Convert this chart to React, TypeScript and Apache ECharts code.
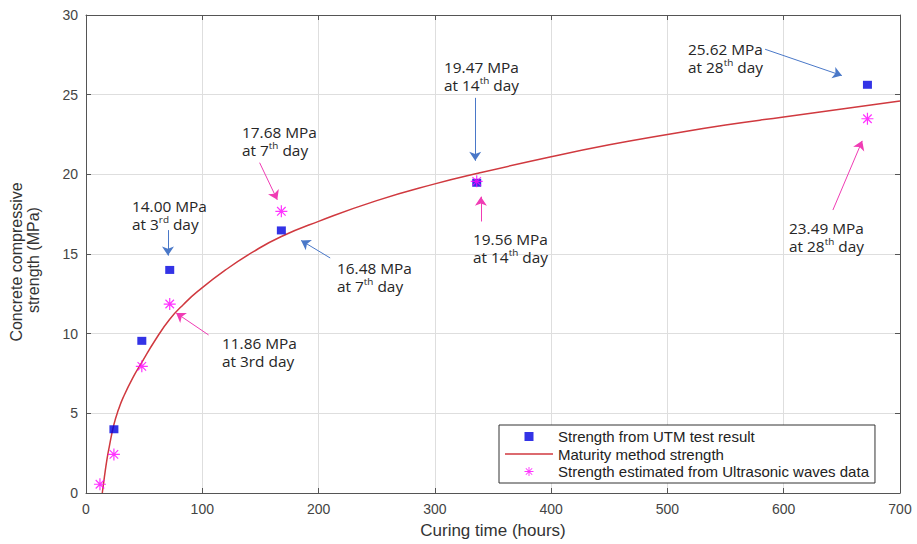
import React, { useEffect, useRef } from "react";
import * as echarts from "echarts";

// ---- data ----
const utmHours = [24, 48, 72, 168, 336, 672];
const utmStrength = [4.0, 9.55, 14.0, 16.48, 19.47, 25.62];

const ultraHours = [12, 24, 48, 72, 168, 336, 672];
const ultraStrength = [0.55, 2.42, 7.95, 11.86, 17.68, 19.56, 23.49];

const maturityHours = [14, 16, 18, 20, 24, 28, 32, 40, 48, 60, 72, 84, 96, 120, 144, 168, 200, 250, 300, 336, 400, 450, 500, 550, 600, 650, 700];
const maturityStrength = [0, 1.1, 2.1, 2.9, 4.3, 5.25, 6.0, 7.2, 8.2, 9.65, 10.9, 11.85, 12.65, 14.0, 15.15, 16.1, 17.05, 18.35, 19.4, 20.05, 21.1, 21.85, 22.5, 23.1, 23.6, 24.1, 24.6];

const seriesNames = [
  "Strength from UTM test result",
  "Maturity method strength",
  "Strength estimated from Ultrasonic waves data",
];

// annotation arrows, in data units: [from, to]
const blueArrows = [
  [[70.5, 16.5], [70.5, 14.9]],
  [[210, 14.75], [185, 15.85]],
  [[334.7, 24.8], [334.7, 20.85]],
  [[584, 27.85], [650, 26.2]],
];
const pinkArrows = [
  [[105.4, 9.92], [77.5, 11.3]],
  [[149.3, 20.73], [164.5, 18.4]],
  [[339.6, 17.04], [339.6, 18.6]],
  [[642.3, 17.76], [667.5, 22.1]],
];

// annotation texts
const annotationTexts = [
  { value: "14.00 MPa", line2: "{t|at 3}{s|rd}{t| day}" },
  { value: "11.86 MPa", line2: "{t|at 3rd day}" },
  { value: "17.68 MPa", line2: "{t|at 7}{s|th}{t| day}" },
  { value: "16.48 MPa", line2: "{t|at 7}{s|th}{t| day}" },
  { value: "19.47 MPa", line2: "{t|at 14}{s|th}{t| day}" },
  { value: "19.56 MPa", line2: "{t|at 14}{s|th}{t| day}" },
  { value: "25.62 MPa", line2: "{t|at 28}{s|th}{t| day}" },
  { value: "23.49 MPa", line2: "{t|at 28}{s|th}{t| day}" },
];
const annotationPos = [
  [132, 197],
  [222, 334],
  [242, 123],
  [337, 259],
  [444, 58],
  [473, 230],
  [688, 40],
  [789, 219],
];

const STAR =
  "path://M9 0H11V20H9Z M0 9H20V11H0Z M2.2 3.6L3.6 2.2L17.8 16.4L16.4 17.8Z M16.4 2.2L17.8 3.6L3.6 17.8L2.2 16.4Z";
const SQUARE_ICON = "path://M0 0H10V10H0Z";
const LINE_ICON = "path://M0 0H48V1.5H0Z";

const AXIS_COLOR = "#555555";
const SANS = "'Liberation Sans', Arial, sans-serif";

export default function App() {
  const ref = useRef<HTMLDivElement>(null);

  useEffect(() => {
    document.body.style.margin = "0";
    if (!ref.current) return;
    const chart = echarts.init(ref.current, undefined, { renderer: "svg" });

    const arrowMark = (arrows: number[][][], color: string) => ({
      silent: true,
      animation: false,
      symbol: ["none", "arrow"],
      symbolSize: 9,
      label: { show: false },
      emphasis: { disabled: true },
      lineStyle: { color, width: 1, type: "solid" },
      data: arrows.map(([a, b]) => [{ coord: a }, { coord: b }]),
    });

    const richStyles = {
      t: { fontSize: 14, fontFamily: "'Open Sans', sans-serif", fill: "#262626", lineHeight: 18 },
      s: { fontSize: 9, fontFamily: "'Open Sans', sans-serif", fill: "#262626", lineHeight: 10, verticalAlign: "top" },
    };

    const graphics: any[] = annotationTexts.map((a, i) => ({
      type: "text",
      x: annotationPos[i][0],
      y: annotationPos[i][1],
      scaleX: 1.1,
      z: 100,
      silent: true,
      style: {
        text: `{t|${a.value}}\n${a.line2}`,
        rich: richStyles,
        verticalAlign: "top",
        align: "left",
      },
    }));
    graphics.push(
      {
        type: "text",
        x: 16,
        y: 262,
        rotation: Math.PI / 2,
        silent: true,
        style: {
          text: "Concrete compressive",
          font: `16px ${SANS}`,
          fill: "#333",
          align: "center",
          verticalAlign: "middle",
        },
      },
      {
        type: "text",
        x: 33,
        y: 260,
        rotation: Math.PI / 2,
        silent: true,
        style: {
          text: "strength (MPa)",
          font: `16px ${SANS}`,
          fill: "#333",
          align: "center",
          verticalAlign: "middle",
        },
      }
    );

    const baseAxisLine = { show: true, onZero: false, lineStyle: { color: AXIS_COLOR, width: 1 } };
    const baseTick = { show: true, inside: true, length: 5, lineStyle: { color: AXIS_COLOR } };

    chart.setOption({
      animation: false,
      grid: { left: 86, right: 17, top: 15, bottom: 47, containLabel: false },
      xAxis: [
        {
          type: "value",
          min: 0,
          max: 700,
          interval: 100,
          position: "bottom",
          axisLine: baseAxisLine,
          axisTick: baseTick,
          axisLabel: { color: "#444", fontSize: 14, fontFamily: SANS, margin: 9 },
          splitLine: { show: true, lineStyle: { color: "#dedede", width: 1 } },
          name: "Curing time (hours)",
          nameLocation: "middle",
          nameGap: 29,
          nameTextStyle: { fontSize: 17, color: "#333", fontFamily: SANS },
        },
        {
          type: "value",
          min: 0,
          max: 700,
          interval: 100,
          position: "top",
          axisLine: baseAxisLine,
          axisTick: baseTick,
          axisLabel: { show: false },
          splitLine: { show: false },
        },
      ],
      yAxis: [
        {
          type: "value",
          min: 0,
          max: 30,
          interval: 5,
          position: "left",
          axisLine: baseAxisLine,
          axisTick: baseTick,
          axisLabel: { color: "#444", fontSize: 14, fontFamily: SANS, margin: 8 },
          splitLine: { show: true, lineStyle: { color: "#dedede", width: 1 } },
        },
        {
          type: "value",
          min: 0,
          max: 30,
          interval: 5,
          position: "right",
          axisLine: baseAxisLine,
          axisTick: baseTick,
          axisLabel: { show: false },
          splitLine: { show: false },
        },
      ],
      legend: {
        data: [
          { name: seriesNames[0], icon: SQUARE_ICON, itemStyle: { color: "#0000e0" } },
          { name: seriesNames[1], icon: LINE_ICON, itemStyle: { color: "#d0393f" } },
          { name: seriesNames[2], icon: STAR, itemStyle: { color: "#ff00ff" } },
        ],
        orient: "vertical",
        left: 499,
        top: 425,
        itemWidth: 48,
        itemHeight: 9,
        itemGap: 0.5,
        padding: [3, 6, 3, 6],
        backgroundColor: "#fff",
        borderColor: "#333",
        borderWidth: 1,
        borderRadius: 0,
        selectedMode: false,
        textStyle: { fontSize: 15, fontFamily: SANS, color: "#222", lineHeight: 17 },
        z: 10,
      },
      series: [
        {
          name: seriesNames[1],
          type: "line",
          data: maturityHours.map((h, i) => [h, maturityStrength[i]]),
          symbol: "none",
          showSymbol: false,
          smooth: true,
          lineStyle: { color: "#d0393f", width: 1.5 },
          itemStyle: { color: "#d0393f" },
          z: 2,
        },
        {
          name: seriesNames[0],
          type: "scatter",
          data: utmHours.map((h, i) => [h, utmStrength[i]]),
          symbol: "rect",
          symbolSize: [9, 8],
          itemStyle: { color: "#0000e0" },
          z: 3,
          markLine: arrowMark(blueArrows, "#4a78c8"),
        },
        {
          name: seriesNames[2],
          type: "scatter",
          data: ultraHours.map((h, i) => [h, ultraStrength[i]]),
          symbol: STAR,
          symbolSize: 12,
          itemStyle: { color: "#ff00ff" },
          z: 4,
          markLine: arrowMark(pinkArrows, "#f03cb4"),
        },
      ],
      graphic: graphics,
    });

    return () => chart.dispose();
  }, []);

  return <div ref={ref} style={{ width: 917, height: 544 }} />;
}
